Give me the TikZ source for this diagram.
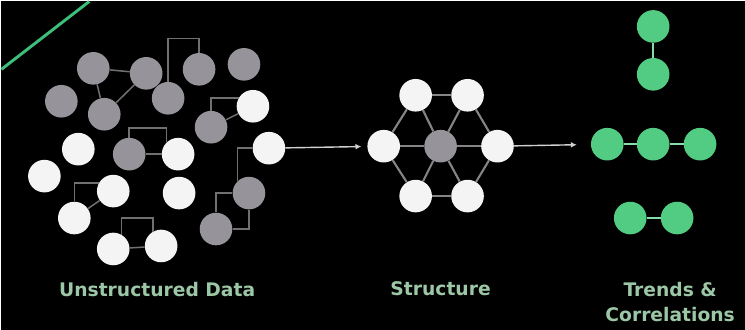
\documentclass[tikz,border=0pt]{standalone}
\usepackage{fontspec}
\setmainfont{DejaVu Sans}
\usetikzlibrary{arrows.meta,positioning}
\definecolor{Bg}{HTML}{000000}
\definecolor{Dim}{HTML}{96949A}
\definecolor{Lit}{HTML}{F4F4F4}
\definecolor{Mint}{HTML}{52CC82}
\definecolor{MintLine}{HTML}{3DBF7C}
\definecolor{Wire}{HTML}{707070}
\definecolor{Spoke}{HTML}{858585}
\definecolor{Caption}{HTML}{9CC7A6}
\definecolor{Flow}{HTML}{D0D0D0}

\begin{document}
\begin{tikzpicture}[x=0.03cm,y=-0.03cm,
  dot/.style={circle,minimum size=0.98cm,inner sep=0pt},
  wire/.style={Wire,line width=1.3pt},
  spoke/.style={Spoke,line width=1.8pt},
  link/.style={Mint!70!white,line width=1.3pt},
  flow/.style={Flow,line width=1.2pt,-{Latex[length=5pt,width=5pt]}},
  tag/.style={Caption,font=\fontsize{16}{21}\selectfont\bfseries,align=center}]
  \fill[Bg] (0,0) rectangle (745,329);
  \draw[MintLine,line width=2.5pt] (0,68) -- (88,0);
  % unstructured data
  \foreach \n/\x/\y in {u1/92/67, u2/145/72, u3/198/68, u4/243/63, u5/60/100,
    u6/103/113, u7/167/97, u8/210/126, u9/128/153, u10/248/192, u11/215/228}
    \node[dot,fill=Dim] (\n) at (\x,\y) {};
  \foreach \n/\x/\y in {w1/252/105, w2/77/148, w3/177/153, w4/268/147, w5/43/175,
    w6/112/190, w7/178/192, w8/73/217, w9/112/248, w10/160/245}
    \node[dot,fill=Lit] (\n) at (\x,\y) {};
  \draw[wire] (u1) -- (u2);
  \draw[wire] (u7) |- (u3 |- 0,37) -- (u3);
  \draw[wire] (u1) -- (u6);
  \draw[wire] (u6) -- (u2);
  \draw[wire] (u8) |- (w1.150);
  \draw[wire] (u8) -- (w1);
  \draw[wire] (u9) -- (u9 |- 0,127) -| (w3.135);
  \draw[wire] (u9) -- (w3);
  \draw[wire] (w4) -| (u10.135);
  \draw[wire] (u10) -| (u11);
  \draw[wire] (u10) |- (u11);
  \draw[wire] (w8) |- (w6.150);
  \draw[wire] (w8) -- (w6);
  \draw[wire] (w9.60) -- (w9.60 |- 0,217) -| (w10.120);
  \draw[wire] (w9) -- (w10);
  % structure
  \node[dot,fill=Dim] (s0) at (440,145) {};
  \foreach \n/\x/\y in {s1/415/94, s2/467/94, s3/383/145, s4/497/145,
    s5/415/195, s6/467/195}
    \node[dot,fill=Lit] (\n) at (\x,\y) {};
  \foreach \a/\b in {s1/s2, s2/s4, s4/s6, s6/s5, s5/s3, s3/s1}
    \draw[spoke] (\a) -- (\b);
  \foreach \n in {s1,s2,s3,s4,s5,s6}
    \draw[spoke] (s0) -- (\n);
  % trends
  \foreach \n/\x/\y in {g1/653/25, g2/653/73, g3/607/143, g4/653/143,
    g5/700/143, g6/630/217, g7/677/217}
    \node[dot,fill=Mint] (\n) at (\x,\y) {};
  \foreach \a/\b in {g1/g2, g3/g4, g4/g5, g6/g7}
    \draw[link] (\a) -- (\b);
  % flow
  \draw[flow,shorten >=5pt] (w4) -- (s3);
  \draw[flow,shorten >=12pt] (s4) -- (g3);
  \node[tag] (tagU) at (156,289) {Unstructured Data};
  \node[tag] (tagS) at (440,288) {Structure};
  \node[tag] (tagT) at (670,301) {Trends \&\\Correlations};
\end{tikzpicture}
\end{document}
